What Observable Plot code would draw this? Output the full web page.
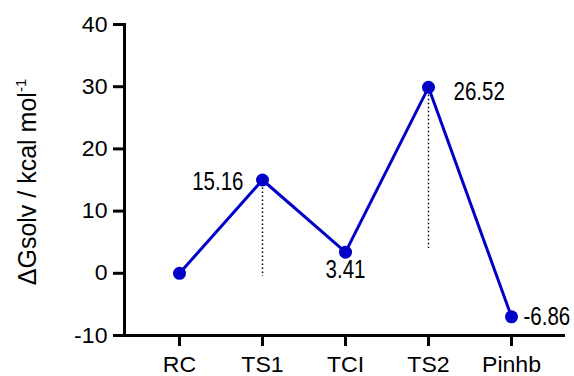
<!DOCTYPE html>
<html>
<head>
<meta charset="utf-8">
<script src="https://cdn.jsdelivr.net/npm/d3@7"></script>
<script src="https://cdn.jsdelivr.net/npm/@observablehq/plot@0.6"></script>
<style>
  html, body { margin: 0; padding: 0; background: white; }
</style>
</head>
<body>
<div id="chart"></div>
<script>
const states = ["RC", "TS1", "TCI", "TS2", "Pinhb"];
const energies = [0, 15.0, 3.4, 29.9, -7.0];
const labelTexts = ["15.16", "3.41", "26.52", "-6.86"];
const labelStates = ["TS1", "TCI", "TS2", "Pinhb"];
const dropStates = ["TS1", "TS2"];
const dropTops = [15.0, 29.9];
const dropBottoms = [-0.5, 4];
const yTicks = [-10, 0, 10, 20, 30, 40];
const yTitleMain = "\u0394Gsolv / kcal mol";
const yTitleSup = "-1";

const pts = states.map((s, i) => ({state: s, value: energies[i]}));
const labels = labelStates.map((s, i) => ({state: s, value: energies[states.indexOf(s)], text: labelTexts[i]}));
const drops = dropStates.map((s, i) => ({state: s, top: dropTops[i], bottom: dropBottoms[i]}));
const lab = s => labels.filter(d => d.state === s);

const blue = "#0000c8";
const font = "'Liberation Sans', Arial, sans-serif";

const chart = Plot.plot({
  width: 574,
  height: 376,
  marginLeft: 124,
  marginRight: 9,
  marginTop: 24,
  marginBottom: 41,
  x: {type: "point", domain: states, padding: 0.656},
  y: {domain: [-10, 40]},
  style: {fontFamily: font, fontSize: "22px", color: "black", background: "white"},
  marks: [
    Plot.axisY({ticks: yTicks, tickFormat: d => String(d), tickSize: 11, tickPadding: 6, strokeWidth: 3, label: null, fontSize: 22}),
    Plot.axisX({tickSize: 11, tickPadding: 10, strokeWidth: 3, label: null, fontSize: 22}),
    Plot.frame({anchor: "left", strokeWidth: 3}),
    Plot.ruleY([-10], {strokeWidth: 3}),
    Plot.ruleX(drops, {x: "state", y1: "top", y2: "bottom", stroke: "black", strokeWidth: 1.5, strokeDasharray: "1.5,2.5"}),
    Plot.line(pts, {x: "state", y: "value", stroke: blue, strokeWidth: 3}),
    Plot.dot(pts, {x: "state", y: "value", r: 6.5, fill: blue, stroke: "none"}),
    Plot.text(lab("TS1"), {x: "state", y: "value", text: "text", textAnchor: "end", dx: -19, dy: 2, fontSize: 25}),
    Plot.text(lab("TCI"), {x: "state", y: "value", text: "text", textAnchor: "middle", dx: 0, dy: 18, fontSize: 25}),
    Plot.text(lab("TS2"), {x: "state", y: "value", text: "text", textAnchor: "start", dx: 25, dy: 5, fontSize: 25}),
    Plot.text(lab("Pinhb"), {x: "state", y: "value", text: "text", textAnchor: "start", dx: 12, dy: 0, fontSize: 25})
  ]
});

const svg = d3.select(chart);
// tick labels: explicit size and slight widening; data labels: condensed
svg.selectAll("text").each(function() {
  const isData = !!this.closest('g[aria-label="text"]');
  const tr = this.getAttribute("transform") || "";
  if (!isData) {
    this.setAttribute("font-size", "22");
    this.style.fontSize = "22px";
  }
  this.setAttribute("transform", tr + (isData ? " scale(0.82,1)" : " scale(1.05,1)"));
});
const t = svg.append("text")
  .attr("transform", "translate(36,182) rotate(-90)")
  .attr("text-anchor", "middle")
  .attr("font-family", font)
  .style("font-size", "25px")
  .attr("fill", "black");
t.append("tspan").text(yTitleMain);
t.append("tspan").attr("dy", -10).style("font-size", "15px").text(yTitleSup);

document.getElementById("chart").appendChild(chart);
</script>
</body>
</html>
